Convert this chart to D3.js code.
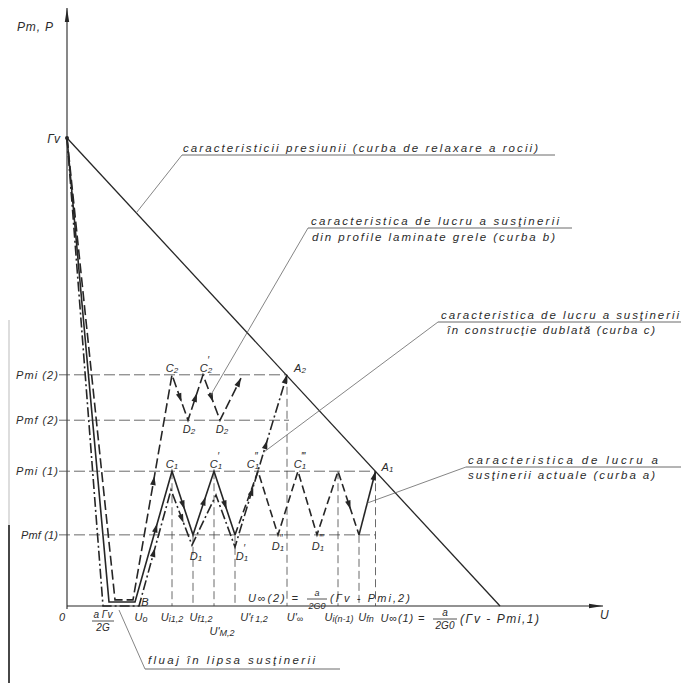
<!DOCTYPE html>
<html><head><meta charset="utf-8">
<script src="https://cdn.jsdelivr.net/npm/d3@7"></script>
<style>
html,body{margin:0;padding:0;background:#fff;}
svg{display:block;}
text{font-family:"Liberation Sans","DejaVu Sans",sans-serif;font-style:italic;fill:#2b2b2b;}
</style></head><body>
<svg id="chart" width="681" height="683"></svg>
<script>
// ---------------- DATA (U along x, P along y, Γv = 100) ----------------
const gammaV = [0, 100];
const axisUEnd = 107.2;
const axisPTop = 127.8;
const pressureLine = [[0, 100], [86.6, 0]];          // curba de relaxare a rocii
const levelNames  = ["Pmi (2)", "Pmf (2)", "Pmi (1)", "Pmf (1)"];
const levelValues = [49.4, 39.7, 28.8, 15.2];
const levelEnds   = [44.0, 44.4, 61.7, 61.7];
const curveA      = [[0,100],[8.4,0.85],[13.6,0.85],[21,28.8],[25.2,15.2],[29.4,28.8],[33.6,15.2]];
const curveAcont  = [[33.6,15.2],[38.2,28.8],[42.2,15.2],[46.2,28.8],[50,15.2],[54.2,28.8],[58.4,15.2]];
const curveAend   = [[58.4,15.2],[61.7,28.8]];
const curveB      = [[0,100],[9.6,1.3],[13.2,1.3],[21,49.4],[24.2,39.7],[27.2,49.4],[30.6,39.7],[34.8,48.7]];
const curveC      = [[0,100],[7.2,0],[14.4,0],[20.8,24.8],[25,13],[29.8,23.7],[33.6,12.6],[44.0,49.4]];
const dropU = [21, 25.2, 29.4, 33.6, 44.0, 54.2, 58.4, 61.7];
const dropP = [28.8, 15.2, 28.8, 15.2, 49.4, 28.8, 15.2, 28.8];
const tickU     = [14.8, 21, 25.2, 29.4, 33.6, 44.0, 54.2, 58.4];
const tickMain  = ["U", "U", "U", "U'", "U'", "U'", "U", "U"];
const tickSub   = ["o", "i1,2", "f1,2", "M,2", "f 1,2", "\u221e", "i(n-1)", "fn"];
const pointNames = ["C","C","D","D","A","C","C","C","C","D","D","D","D","A","B"];
const pointSubs  = ["2","2","2","2","2","1","1","1","1","1","1","1","1","1",""];
const pointPrimes= ["","\u2032","","","","","\u2032","\u2033","\u2034","","\u2032","\u2033","\u2034","",""];
const pointU = [21, 27.2, 24.2, 30.6, 44.0, 21, 29.4, 38.2, 46.2, 25.2, 33.6, 42.2, 50, 61.7, 13.6];
const pointP = [49.4, 49.4, 39.7, 39.7, 49.4, 28.8, 28.8, 28.8, 28.8, 15.2, 15.2, 15.2, 15.2, 28.8, 0.85];
// arrows: [segment index, fraction along segment]
const arrowsA = [[2,0.6],[3,0.6],[4,0.6],[5,0.6]];
const arrowsAcont = [[5,0.6]];
const arrowsAend = [[0,1]];
const arrowsB = [[2,0.55],[3,0.6],[4,0.6],[5,0.6],[6,1]];
const arrowsC = [[2,0.5],[3,0.6],[6,0.35],[6,0.62],[6,1]];

// ---------------- SCALES ----------------
const svg = d3.select("#chart");
const x = d3.scaleLinear().domain([0, 100]).range([67, 567]);
const y = d3.scaleLinear().domain([0, 100]).range([606, 138]);
const line = d3.line().x(d => x(d[0])).y(d => y(d[1]));
const INK = "#262626";

svg.append("rect").attr("width", 681).attr("height", 683).attr("fill", "#fff");
// scan edge
svg.append("line").attr("x1", 9).attr("x2", 9).attr("y1", 320).attr("y2", 525).attr("stroke", "#bbb").attr("stroke-width", 1);
svg.append("line").attr("x1", 9).attr("x2", 9).attr("y1", 525).attr("y2", 683).attr("stroke", "#333").attr("stroke-width", 1.8);

function arrowHead(g, P0, P1, t, len, w) {
  len = len || 9; w = w || 2.8;
  const x0 = x(P0[0]), y0 = y(P0[1]), x1 = x(P1[0]), y1 = y(P1[1]);
  const tx = x0 + (x1 - x0) * t, ty = y0 + (y1 - y0) * t;
  const a = Math.atan2(y1 - y0, x1 - x0);
  const bx = tx - len * Math.cos(a), by = ty - len * Math.sin(a);
  const nx = -Math.sin(a) * w, ny = Math.cos(a) * w;
  g.append("path").attr("d", `M${tx},${ty}L${bx + nx},${by + ny}L${bx - nx},${by - ny}Z`).attr("fill", INK);
}

// ---------------- AXES ----------------
const ax = svg.append("g");
ax.append("line").attr("x1", x(0)).attr("x2", x(0)).attr("y1", y(0) + 3).attr("y2", y(axisPTop))
  .attr("stroke", INK).attr("stroke-width", 1.1);
arrowHead(ax, [0, 0], [0, axisPTop], 1, 14, 2.2);
ax.append("line").attr("x1", x(0)).attr("x2", x(axisUEnd)).attr("y1", y(0)).attr("y2", y(0))
  .attr("stroke", INK).attr("stroke-width", 1.1);
arrowHead(ax, [0, 0], [axisUEnd, 0], 1, 14, 2.2);

// pressure line
svg.append("path").attr("d", line(pressureLine)).attr("fill", "none").attr("stroke", INK).attr("stroke-width", 1.3);

// level lines
const lv = svg.append("g");
levelValues.forEach((p, i) => {
  lv.append("line").attr("x1", x(0) - 8).attr("x2", x(levelEnds[i])).attr("y1", y(p)).attr("y2", y(p))
    .attr("stroke", "#444").attr("stroke-width", 0.8).attr("stroke-dasharray", "11,4");
  lv.append("text").attr("x", x(0) - 9).attr("y", y(p) + 4).attr("text-anchor", "end")
    .attr("font-size", 11).attr("textLength", i === 3 ? 37 : 42).text(levelNames[i]);
});
// drop lines
dropU.forEach((u, i) => {
  svg.append("line").attr("x1", x(u)).attr("x2", x(u)).attr("y1", y(dropP[i])).attr("y2", y(0))
    .attr("stroke", "#444").attr("stroke-width", 0.8).attr("stroke-dasharray", "8,4");
});

// ---------------- CURVES ----------------
function curve(pts, dash, w) {
  const p = svg.append("path").attr("d", line(pts)).attr("fill", "none").attr("stroke", INK)
    .attr("stroke-width", w || 1.6).attr("stroke-linejoin", "miter");
  if (dash) p.attr("stroke-dasharray", dash);
}
curve(curveC, "10,3,2,3");
curve(curveB, "10,4");
curve(curveA, null);
curve(curveAcont, "8,4");
curve(curveAend, null);
const ar = svg.append("g");
arrowsA.forEach(a => arrowHead(ar, curveA[a[0]], curveA[a[0] + 1], a[1]));
arrowsAcont.forEach(a => arrowHead(ar, curveAcont[a[0]], curveAcont[a[0] + 1], a[1]));
arrowsAend.forEach(a => arrowHead(ar, curveAend[a[0]], curveAend[a[0] + 1], a[1]));
arrowsB.forEach(a => arrowHead(ar, curveB[a[0]], curveB[a[0] + 1], a[1]));
arrowsC.forEach(a => arrowHead(ar, curveC[a[0]], curveC[a[0] + 1], a[1]));
svg.append("circle").attr("cx", x(gammaV[0])).attr("cy", y(gammaV[1])).attr("r", 2).attr("fill", INK);

// ---------------- POINT LABELS ----------------
const pdx = [0, 3, 1, 2, 13, 0, 2, -5, 2, 3, 7, 0, 1, 12, 10];
const pdy = [-3, -3, 13, 13, -3, -3, -3, -3, -3, 25, 25, 15, 15, 0, 4];
pointNames.forEach((n, i) => {
  const t = svg.append("text").attr("x", x(pointU[i]) + pdx[i]).attr("y", y(pointP[i]) + pdy[i])
    .attr("text-anchor", "middle").attr("font-size", 11);
  t.append("tspan").text(n);
  if (pointSubs[i]) t.append("tspan").attr("font-size", 8).attr("dy", 1).text(pointSubs[i]);
  if (pointPrimes[i]) t.append("tspan").attr("font-size", 10).attr("dy", -9).attr("dx", -5).text(pointPrimes[i]);
});

// ---------------- AXIS LABELS ----------------
svg.append("text").attr("x", 17).attr("y", 31).attr("font-size", 12).attr("textLength", 36).text("Pm, P");
svg.append("text").attr("x", x(0) - 7).attr("y", y(gammaV[1]) + 5).attr("text-anchor", "end").attr("font-size", 12).text("\u0393v");
svg.append("text").attr("x", x(axisUEnd) - 3).attr("y", y(0) + 13).attr("font-size", 12).text("U");
svg.append("text").attr("x", x(0) - 5).attr("y", y(0) + 15).attr("text-anchor", "middle").attr("font-size", 11).text("0");

const tdx = [0, 0, 8, 8, 19, 8, 1, 7];
const tdy = [15, 15, 15, 29, 15, 15, 15, 15];
tickU.forEach((u, i) => {
  const t = svg.append("text").attr("x", x(u) + tdx[i]).attr("y", y(0) + tdy[i])
    .attr("text-anchor", "middle").attr("font-size", 11);
  t.append("tspan").text(tickMain[i]);
  t.append("tspan").attr("font-size", 9).attr("dy", 1).text(tickSub[i]);
});

function fraction(cx, base, num, den, wBar, fs) {
  svg.append("text").attr("x", cx).attr("y", base - 4).attr("text-anchor", "middle").attr("font-size", fs).text(num);
  svg.append("line").attr("x1", cx - wBar / 2).attr("x2", cx + wBar / 2).attr("y1", base - 1).attr("y2", base - 1)
    .attr("stroke", INK).attr("stroke-width", 0.8);
  svg.append("text").attr("x", cx).attr("y", base + 9).attr("text-anchor", "middle").attr("font-size", fs).text(den);
}
// a·Γv / 2G at bottom of curves
fraction(x(curveC[1][0]), y(0) + 16, "a \u0393v", "2G", 22, 10);
// U∞(2)
svg.append("text").attr("x", 248).attr("y", y(0) - 4).attr("font-size", 11).attr("textLength", 50).text("U\u221e(2) =");
fraction(317, y(0) - 6, "a", "2G0", 20, 9);
svg.append("text").attr("x", 330).attr("y", y(0) - 4).attr("font-size", 11).attr("textLength", 80).text("(\u0393v - Pmi,2)");
// U∞(1)
svg.append("text").attr("x", x(61.7) + 5).attr("y", y(0) + 16).attr("font-size", 11).attr("textLength", 44).text("U\u221e(1) =");
fraction(445, y(0) + 14, "a", "2G0", 24, 10);
svg.append("text").attr("x", 460).attr("y", y(0) + 17).attr("font-size", 12).attr("textLength", 79).text("(\u0393v - Pmi,1)");

// ---------------- CALLOUTS ----------------
const LEAD = "#666";
function callout(lines, tx, ty, lineGap, ulX1, ulX2, ulY, endPx, lens) {
  svg.append("line").attr("x1", ulX1).attr("x2", ulX2).attr("y1", ulY).attr("y2", ulY).attr("stroke", "#444").attr("stroke-width", 0.8);
  svg.append("line").attr("x1", ulX1).attr("y1", ulY).attr("x2", endPx[0]).attr("y2", endPx[1]).attr("stroke", LEAD).attr("stroke-width", 0.8);
  lines.forEach((s, i) => {
    svg.append("text").attr("x", tx[i]).attr("y", ty + i * lineGap).attr("font-size", 11.5)
      .attr("textLength", lens[i]).attr("lengthAdjust", "spacing").text(s);
  });
}
function onSeg(P0, P1, t) { return [x(P0[0] + (P1[0] - P0[0]) * t), y(P0[1] + (P1[1] - P0[1]) * t)]; }
callout(["caracteristicii presiunii (curba de relaxare a rocii)"], [183], 152, 0, 182, 555, 155,
  onSeg(pressureLine[0], pressureLine[1], 0.16), [355]);
callout(["caracteristica de lucru a susţinerii", "din profile laminate grele (curba b)"], [311, 312], 225, 16, 308, 572, 228,
  onSeg(curveB[5], curveB[6], 0.45), [248, 243]);
callout(["caracteristica de lucru a susţinerii", "în construcţie dublată (curba c)"], [441, 447], 319, 15, 438, 681, 322,
  onSeg(curveC[6], curveC[7], 0.55), [238, 208]);
callout(["caracteristica de lucru a", "susţinerii actuale (curba a)"], [468, 468], 464, 15, 466, 681, 467,
  onSeg(curveAend[0], curveAend[1], 0.5), [190, 187]);
callout(["fluaj în lipsa susţinerii"], [148], 664, 0, 145, 340, 669,
  [x(curveA[1][0]) + 10, y(0) + 4], [167]);
</script>
</body></html>
